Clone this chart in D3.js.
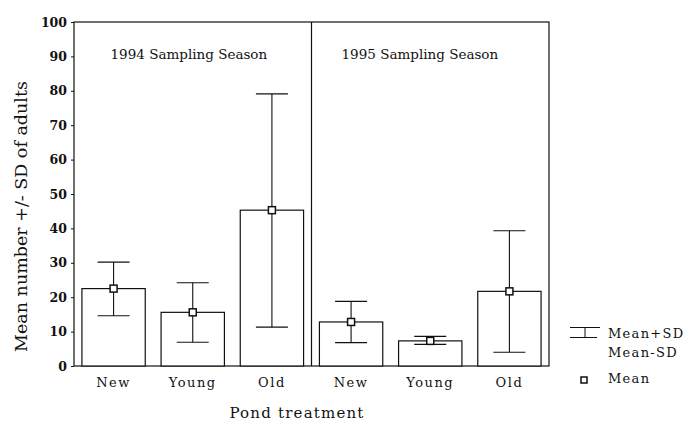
<!DOCTYPE html>
<html>
<head>
<meta charset="utf-8">
<script src="https://cdn.jsdelivr.net/npm/d3@7"></script>
<style>
  body { margin: 0; background: #fff; }
  text { font-family: "DejaVu Serif", serif; fill: #111; }
</style>
</head>
<body>
<div id="main"></div>
<script>
let width = 684;
let height = 423;

let treatments = ["New", "Young", "Old"];
let seasons = ["1994 Sampling Season", "1995 Sampling Season"];
let mean1994 = [22.5, 15.6, 45.3];
let plusSD1994 = [30.2, 24.2, 79.1];
let minusSD1994 = [14.6, 6.9, 11.3];
let mean1995 = [12.8, 7.3, 21.7];
let plusSD1995 = [18.8, 8.6, 39.3];
let minusSD1995 = [6.8, 6.3, 4.0];
let yTicks = [0, 10, 20, 30, 40, 50, 60, 70, 80, 90, 100];

let means = [mean1994, mean1995];
let plus = [plusSD1994, plusSD1995];
let minus = [minusSD1994, minusSD1995];

let mLeft = 74, mRight = 549, mTop = 22, mBottom = 366;

let svg = d3.select("#main")
    .append("svg")
    .attr("width", width)
    .attr("height", height);

var yScale = d3.scaleLinear().domain([0, 100]).range([mBottom, mTop]);
var panelScale = d3.scaleBand().domain(seasons).range([mLeft, mRight]);
var xScale = d3.scaleBand().domain(treatments)
    .range([0, panelScale.bandwidth()])
    .paddingInner(0.2)
    .paddingOuter(0.1);

// frame
svg.append("rect")
    .attr("x", mLeft).attr("y", mTop)
    .attr("width", mRight - mLeft).attr("height", mBottom - mTop)
    .attr("fill", "none").attr("stroke", "#111").attr("stroke-width", 1.2);

svg.append("line")
    .attr("x1", panelScale(seasons[1])).attr("x2", panelScale(seasons[1]))
    .attr("y1", mTop).attr("y2", mBottom)
    .attr("stroke", "#111").attr("stroke-width", 1.2);

// y axis
let yAxis = d3.axisLeft(yScale).tickValues(yTicks).tickSize(3).tickPadding(4);
let ga = svg.append("g").attr("transform", `translate(${mLeft},0)`).call(yAxis);
ga.select(".domain").remove();
ga.selectAll("text").style("font-family", "DejaVu Serif").style("font-size", "12.5px").style("font-weight", "bold").attr("fill", "#111");
ga.selectAll("line").attr("stroke", "#111");

let cap = 16;

seasons.forEach((s, i) => {
    let g = svg.append("g").attr("transform", `translate(${panelScale(s)},0)`);

    g.append("text")
        .attr("x", i == 0 ? 36.5 : 30)
        .attr("y", 58.5)
        .style("font-size", "13.5px")
        .text(s);

    let rows = treatments.map((t, j) => ({t: t, m: means[i][j], hi: plus[i][j], lo: minus[i][j]}));

    g.selectAll("rect.bar").data(rows).enter()
        .append("rect")
        .attr("class", "bar")
        .attr("x", d => xScale(d.t))
        .attr("y", d => yScale(d.m))
        .attr("width", xScale.bandwidth())
        .attr("height", d => yScale(0) - yScale(d.m))
        .attr("fill", "#fff").attr("stroke", "#111").attr("stroke-width", 1.2);

    let cx = d => xScale(d.t) + xScale.bandwidth() / 2;

    g.selectAll("line.err").data(rows).enter()
        .append("line").attr("class", "err")
        .attr("x1", cx).attr("x2", cx)
        .attr("y1", d => yScale(d.hi)).attr("y2", d => yScale(d.lo))
        .attr("stroke", "#111").attr("stroke-width", 1.1);

    ["hi", "lo"].forEach(k => {
        g.selectAll("line.cap" + k).data(rows).enter()
            .append("line").attr("class", "cap" + k)
            .attr("x1", d => cx(d) - cap).attr("x2", d => cx(d) + cap)
            .attr("y1", d => yScale(d[k])).attr("y2", d => yScale(d[k]))
            .attr("stroke", "#111").attr("stroke-width", 1.1);
    });

    g.selectAll("rect.mean").data(rows).enter()
        .append("rect").attr("class", "mean")
        .attr("x", d => cx(d) - 3.5).attr("y", d => yScale(d.m) - 3.5)
        .attr("width", 7).attr("height", 7)
        .attr("fill", "#fff").attr("stroke", "#111").attr("stroke-width", 1.5);

    g.selectAll("text.lab").data(rows).enter()
        .append("text").attr("class", "lab")
        .attr("x", cx).attr("y", 387)
        .attr("text-anchor", "middle")
        .style("font-size", "13px")
        .style("letter-spacing", "1.5px")
        .text(d => d.t);
});

// axis titles
svg.append("text")
    .attr("transform", `translate(27,${(73 + 360) / 2}) rotate(-90)`)
    .attr("text-anchor", "middle")
    .style("font-size", "17.5px")
    .text("Mean number +/- SD of adults");

svg.append("text")
    .attr("x", 297).attr("y", 418)
    .attr("text-anchor", "middle")
    .style("font-size", "15px")
    .style("letter-spacing", "1.2px")
    .text("Pond treatment");

// legend
let lg = svg.append("g");
lg.append("line").attr("x1", 570).attr("x2", 600).attr("y1", 327.5).attr("y2", 327.5).attr("stroke", "#111");
lg.append("line").attr("x1", 585).attr("x2", 585).attr("y1", 327.5).attr("y2", 337.5).attr("stroke", "#111");
lg.append("line").attr("x1", 570).attr("x2", 597).attr("y1", 337.5).attr("y2", 337.5).attr("stroke", "#111");
lg.append("rect").attr("x", 581).attr("y", 377).attr("width", 6).attr("height", 6)
    .attr("fill", "#fff").attr("stroke", "#111").attr("stroke-width", 1.5);
[["Mean+SD", 338], ["Mean-SD", 357], ["Mean", 383]].forEach(d => {
    lg.append("text").attr("x", 608).attr("y", d[1])
        .style("font-size", "13px").style("letter-spacing", "1.3px")
        .text(d[0]);
});
</script>
</body>
</html>
